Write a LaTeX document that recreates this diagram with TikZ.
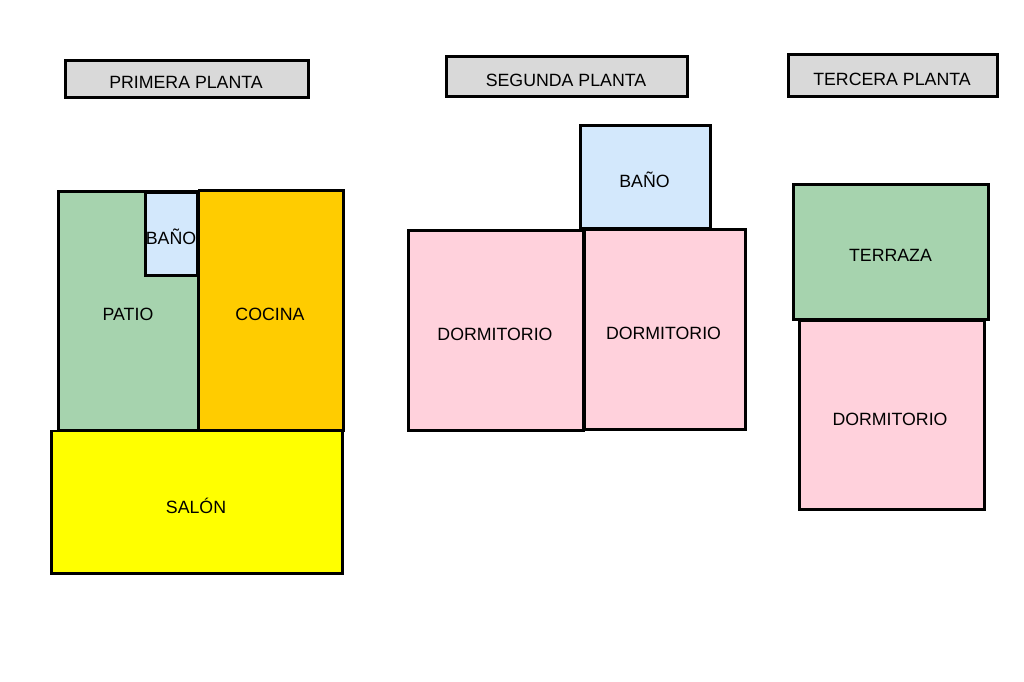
\documentclass[tikz,border=0pt]{standalone}
\usepackage{fontspec}
\setmainfont{Liberation Sans}
\definecolor{patiogreen}{RGB}{166,211,174}
\definecolor{roompink}{RGB}{255,209,220}
\definecolor{bathblue}{RGB}{211,232,252}
\definecolor{kitchenorange}{RGB}{255,204,0}
\definecolor{salonyellow}{RGB}{255,255,0}
\definecolor{titlegrey}{RGB}{217,217,217}
\tikzset{
	room/.style={draw=black, line width=1.7pt},
	label/.style={inner sep=0pt, font=\fontsize{10.1}{12}\selectfont, text=black}
}
\begin{document}
\begin{tikzpicture}[x=0.02cm, y=-0.02cm]
	\useasboundingbox (0, 0) rectangle (1024, 682);

	% titles
	\draw[room, fill=titlegrey] (65.5, 60.5) rectangle (308.5, 97.5);
	\draw[room, fill=titlegrey] (446.5, 56.5) rectangle (687.5, 96.5);
	\draw[room, fill=titlegrey] (788.5, 54.5) rectangle (997.5, 96.5);

	\node[label] (primera) at (186, 82) {PRIMERA PLANTA};
	\node[label] (segunda) at (566, 80) {SEGUNDA PLANTA};
	\node[label] (tercera) at (892, 79) {TERCERA PLANTA};

	% first floor
	\draw[room, fill=patiogreen] (58.5, 191.5) rectangle (198.5, 430.5);
	\draw[room, fill=bathblue] (145.5, 192.5) rectangle (197.5, 275.5);
	\draw[room, fill=kitchenorange] (199, 190.5) rectangle (343.5, 430.5);
	\draw[room, fill=salonyellow] (51.5, 431) rectangle (342.5, 573.5);

	\node[label] (patio) at (128, 314) {PATIO};
	\node[label] (banoa) at (171, 236.5) {BAÑO};
	\node[label] (cocina) at (270, 314) {COCINA};
	\node[label] (salon) at (196, 505.5) {SALÓN};

	% second floor
	\draw[room, fill=bathblue] (580.5, 125.5) rectangle (710.5, 228.5);
	\draw[room, fill=roompink] (408.5, 230.5) rectangle (583.5, 430.5);
	\draw[room, fill=roompink] (584, 229.5) rectangle (745.5, 429.5);

	\node[label] (banob) at (644.5, 179.5) {BAÑO};
	\node[label] (dormitorioa) at (495, 334) {DORMITORIO};
	\node[label] (dormitoriob) at (663.5, 333) {DORMITORIO};

	% third floor
	\draw[room, fill=roompink] (799.5, 321) rectangle (984.5, 509.5);
	\draw[room, fill=patiogreen] (793.5, 184.5) rectangle (988.5, 319.5);

	\node[label] (terraza) at (890.5, 255) {TERRAZA};
	\node[label] (dormitorioc) at (890, 419) {DORMITORIO};
\end{tikzpicture}
\end{document}
